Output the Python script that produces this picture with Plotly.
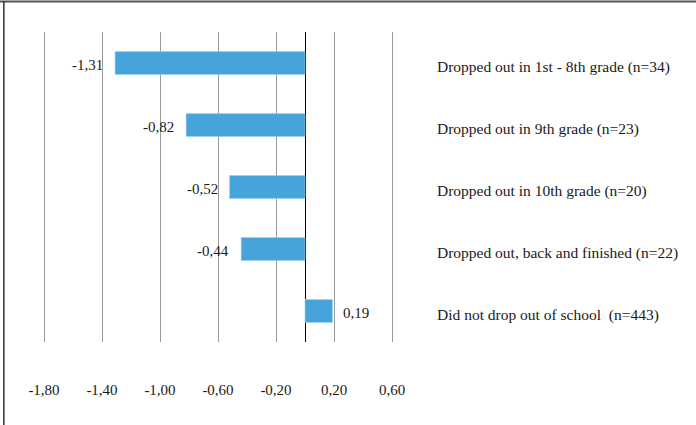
import plotly.graph_objects as go

# Mean scores by dropout group
groups = [
    "Dropped out in 1st - 8th grade (n=34)",
    "Dropped out in 9th grade (n=23)",
    "Dropped out in 10th grade (n=20)",
    "Dropped out, back and finished (n=22)",
    "Did not drop out of school  (n=443)",
]
values = [-1.31, -0.82, -0.52, -0.44, 0.19]
tick_vals = [-1.80, -1.40, -1.00, -0.60, -0.20, 0.20, 0.60]
tick_text = ["-1,80", "-1,40", "-1,00", "-0,60", "-0,20", "0,20", "0,60"]

FONT = "Liberation Serif, Times New Roman, serif"
TEXT_COLOR = "#1a1a1a"
BAR_COLOR = "#46A4DA"

PX_PER_UNIT = 145.0
PAD = 3 / PX_PER_UNIT  # keeps the outer gridlines inside the plot area


def fmt(v):
    return f"{v:.2f}".replace(".", ",")


fig = go.Figure()
fig.add_trace(go.Bar(
    x=values,
    y=groups,
    orientation="h",
    width=0.37,
    marker=dict(color=BAR_COLOR, line=dict(color="#9fd0ee", width=0.6)),
    hoverinfo="skip",
))

# Value labels beside each bar end
for g, v in zip(groups, values):
    fig.add_annotation(
        x=v, y=g, xref="x", yref="y",
        text=fmt(v), showarrow=False,
        xanchor="right" if v < 0 else "left",
        xshift=-10 if v < 0 else 8, yshift=-2,
        font=dict(family=FONT, size=15, color=TEXT_COLOR),
    )

# Group labels to the right of the plot area
for g in groups:
    fig.add_annotation(
        x=1.0, xref="paper", xshift=40,
        y=g, yref="y", yshift=-4,
        text=g, showarrow=False, xanchor="left",
        font=dict(family=FONT, size=15.5, color=TEXT_COLOR),
    )

# Frame lines along the top and left edge
fig.add_shape(type="line", xref="paper", yref="paper",
              x0=-0.2, x1=2.0, y0=1.098, y1=1.098,
              line=dict(color="#555555", width=2), layer="above")
fig.add_shape(type="line", xref="paper", yref="paper",
              x0=-0.105, x1=-0.105, y0=-0.5, y1=1.1,
              line=dict(color="#333333", width=1.5), layer="above")

fig.update_layout(
    width=696, height=425,
    margin=dict(l=41, r=301, t=32, b=83),
    paper_bgcolor="white", plot_bgcolor="white",
    showlegend=False,
    xaxis=dict(
        range=[-1.8 - PAD, 0.6 + PAD],
        tickvals=tick_vals, ticktext=tick_text,
        showgrid=True, gridcolor="#9a9a9a", gridwidth=1,
        zeroline=True, zerolinecolor="#000000", zerolinewidth=1.3,
        showline=False, ticks="",
        ticklabelstandoff=37,
        tickfont=dict(family=FONT, size=15, color=TEXT_COLOR),
    ),
    yaxis=dict(
        categoryorder="array", categoryarray=groups,
        autorange="reversed",
        showticklabels=False, showgrid=False, zeroline=False,
        showline=False, ticks="",
    ),
)

fig.write_html("out.html")
